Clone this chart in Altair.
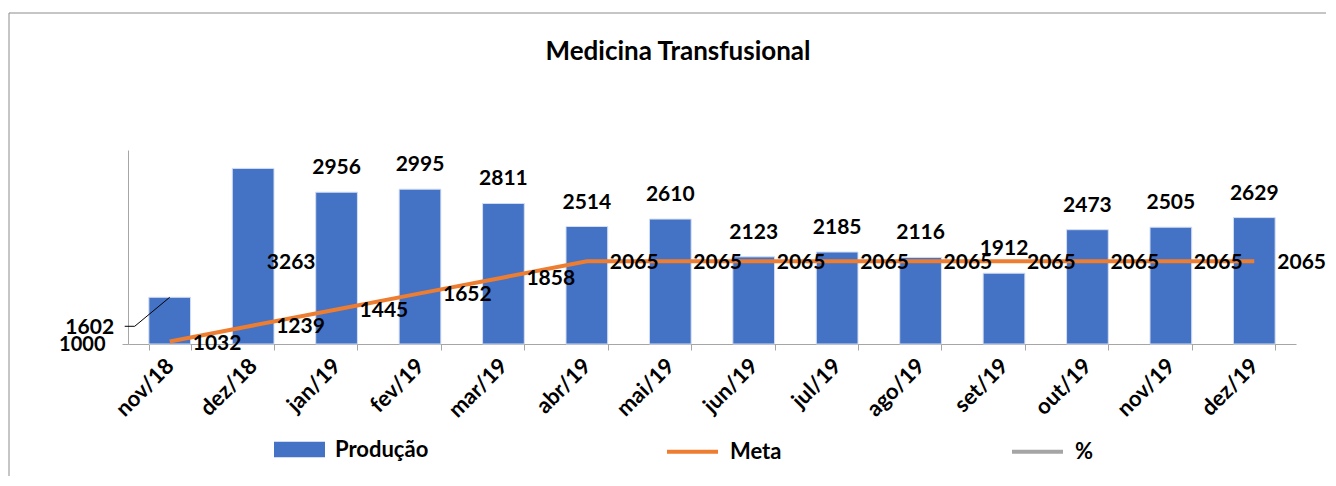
import altair as alt
import pandas as pd

months = ["nov/18", "dez/18", "jan/19", "fev/19", "mar/19", "abr/19", "mai/19",
          "jun/19", "jul/19", "ago/19", "set/19", "out/19", "nov/19", "dez/19"]
producao = [1602, 3263, 2956, 2995, 2811, 2514, 2610, 2123, 2185, 2116, 1912, 2473, 2505, 2629]
meta = [1032, 1239, 1445, 1652, 1858, 2065, 2065, 2065, 2065, 2065, 2065, 2065, 2065, 2065]
series_bar = ["Produção"]
series_line = ["Meta", "%"]
y_domain = [1000, 3500]
y_ticks = [1000]
title_text = "Medicina Transfusional"

df = pd.DataFrame({"mes": months, "prod": producao, "meta": meta})
df["serie_bar"] = series_bar[0]
df["serie_line"] = series_line[0]

FONT = "Lato"
BLUE = "#4472C4"
ORANGE = "#ED7D31"
GRAY = "#A5A5A5"
AXIS = "#A6A6A6"

xscale = alt.Scale(domain=months, paddingInner=0.5, paddingOuter=0.25)
yscale = alt.Scale(domain=y_domain, zero=False, nice=False)

x_axis = alt.Axis(title=None, labelAngle=-45, labelAlign="right", labelBaseline="middle",
                  labelPadding=12, labelFont=FONT, labelFontSize=22, labelFontWeight="bold",
                  labelColor="black", tickBand="extent", tickSize=6, tickColor=AXIS,
                  domainColor=AXIS, labelOverlap=False, grid=False)
y_axis = alt.Axis(title=None, values=y_ticks, format="d", grid=False, labelFont=FONT,
                  labelFontSize=20, labelFontWeight="bold", labelColor="black", tickSize=6,
                  labelPadding=17, tickColor=AXIS, domainColor=AXIS)

X = alt.X("mes:N", sort=months, scale=xscale, axis=x_axis)

base = alt.Chart(df)

bars = base.mark_bar(stroke="#D3DEF2", strokeWidth=1).encode(
    x=X,
    y=alt.Y("prod:Q", scale=yscale, axis=y_axis),
    y2=alt.datum(y_domain[0]),
    fill=alt.Fill("serie_bar:N", scale=alt.Scale(domain=series_bar, range=[BLUE]),
                  legend=alt.Legend(title=None, orient="none", legendX=146, legendY=274,
                                    direction="horizontal",
                                    symbolType="M-1,-0.3L1,-0.3L1,0.3L-1,0.3Z",
                                    symbolSize=2601, symbolStrokeWidth=0, symbolOpacity=1,
                                    labelFont=FONT, labelFontSize=22, labelFontWeight="bold",
                                    labelColor="black", labelOffset=10, padding=0)),
)

line = base.mark_line(strokeWidth=4).encode(
    x=alt.X("mes:N", sort=months, scale=xscale),
    y=alt.Y("meta:Q", scale=yscale),
    stroke=alt.Stroke("serie_line:N", scale=alt.Scale(domain=series_line, range=[ORANGE, GRAY]),
                      legend=alt.Legend(title=None, orient="none", legendX=537, legendY=274,
                                        direction="horizontal", symbolType="stroke",
                                        symbolSize=2601, symbolStrokeWidth=4,
                                        labelFont=FONT, labelFontSize=22, labelFontWeight="bold",
                                        labelColor="black", labelOffset=10, columnPadding=222,
                                        padding=0)),
)

txt = dict(font=FONT, fontSize=21, fontWeight="bold", color="black")

bar_labels = base.transform_filter(
    alt.FieldOneOfPredicate(field="mes", oneOf=months[2:])
).mark_text(align="center", baseline="alphabetic", dy=-18, **txt).encode(
    x=alt.X("mes:N", sort=months, scale=xscale),
    y=alt.Y("prod:Q", scale=yscale),
    text="prod:Q",
)

lbl_dez = base.transform_filter(
    alt.FieldEqualPredicate(field="mes", equal=months[1])
).mark_text(align="center", baseline="alphabetic", dx=38, dy=101, **txt).encode(
    x=alt.X("mes:N", sort=months, scale=xscale),
    y=alt.Y("prod:Q", scale=yscale),
    text="prod:Q",
)

lbl_nov = base.transform_filter(
    alt.FieldEqualPredicate(field="mes", equal=months[0])
).mark_text(align="center", baseline="alphabetic", dx=-80, dy=37, **txt).encode(
    x=alt.X("mes:N", sort=months, scale=xscale),
    y=alt.Y("prod:Q", scale=yscale),
    text="prod:Q",
)

nov_base = base.transform_filter(alt.FieldEqualPredicate(field="mes", equal=months[0]))
leader1 = nov_base.mark_rule(color="black", strokeWidth=1, x2Offset=-35, y2Offset=29).encode(
    x=alt.X("mes:N", sort=months, scale=xscale, bandPosition=0.5),
    x2=alt.X2("mes:N", bandPosition=0.5),
    y=alt.Y("prod:Q", scale=yscale),
    y2=alt.Y2("prod:Q"),
)
leader2 = nov_base.mark_rule(color="black", strokeWidth=1, xOffset=-35, x2Offset=-45,
                             yOffset=29, y2Offset=29).encode(
    x=alt.X("mes:N", sort=months, scale=xscale, bandPosition=0.5),
    x2=alt.X2("mes:N", bandPosition=0.5),
    y=alt.Y("prod:Q", scale=yscale),
    y2=alt.Y2("prod:Q"),
)

meta_labels = base.mark_text(align="left", baseline="middle", dx=23, dy=2, **txt).encode(
    x=alt.X("mes:N", sort=months, scale=xscale),
    y=alt.Y("meta:Q", scale=yscale),
    text="meta:Q",
)

border_left = nov_base.mark_rule(color="#8C8C8C", strokeWidth=1).encode(
    x=alt.value(-119), y=alt.value(-137), y2=alt.value(340))
border_top = nov_base.mark_rule(color="#8C8C8C", strokeWidth=1).encode(
    x=alt.value(-119), x2=alt.value(1230), y=alt.value(-137))

chart = alt.layer(
    border_left, border_top, bars, line, bar_labels, lbl_dez, lbl_nov, leader1, leader2, meta_labels
).properties(
    width=1168, height=194,
    background="white",
    title=alt.Title(title_text, font=FONT, fontSize=26, fontWeight="bold", color="black",
                    anchor="middle", dx=-34, offset=-52),
    autosize=alt.AutoSizeParams(type="none"),
    padding={"left": 120, "top": 142, "right": 30, "bottom": 132},
).configure_view(stroke=None, strokeWidth=0)

chart.save("out.html", embed_options={"renderer": "svg", "actions": False})
